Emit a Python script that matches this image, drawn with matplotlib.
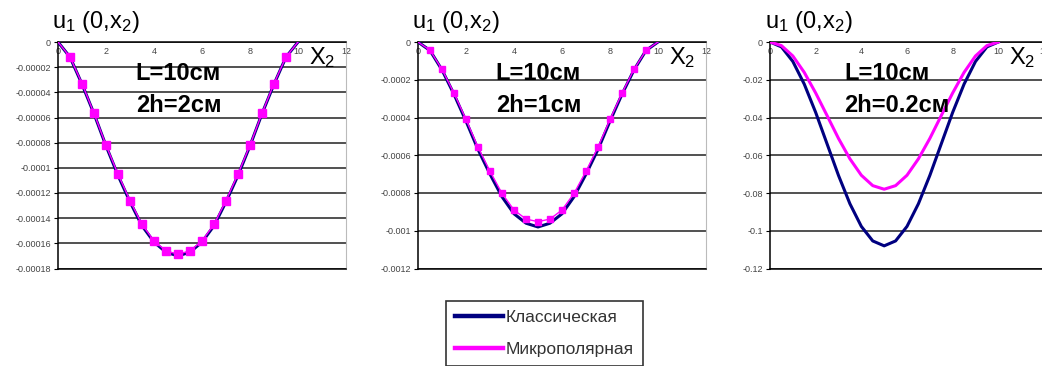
import matplotlib
matplotlib.use('Agg')
import matplotlib.pyplot as plt

plt.rcParams['font.family'] = ['Liberation Sans', 'DejaVu Sans']
plt.rcParams['mathtext.fontset'] = 'custom'
plt.rcParams['mathtext.rm'] = 'Liberation Sans'
plt.rcParams['mathtext.it'] = 'Liberation Sans:italic'
plt.rcParams['mathtext.bf'] = 'Liberation Sans:bold'

# ---------- data ----------
x2 = [0, 0.5, 1, 1.5, 2, 2.5, 3, 3.5, 4, 4.5, 5, 5.5, 6, 6.5, 7, 7.5, 8, 8.5, 9, 9.5, 10]

# 2h = 2 cm
classic_1 = [0, -0.000012, -0.0000335, -0.000057, -0.0000825, -0.000106, -0.000127, -0.000146, -0.000159,
             -0.000167, -0.00017, -0.000167, -0.000159, -0.000146, -0.000127, -0.000106, -0.0000825,
             -0.000057, -0.0000335, -0.000012, 0]
micro_1 = [0, -0.0000119, -0.000033, -0.0000567, -0.000082, -0.000105, -0.000126, -0.000145, -0.000158,
           -0.000166, -0.0001686, -0.000166, -0.000158, -0.000145, -0.000126, -0.000105, -0.000082,
           -0.0000567, -0.000033, -0.0000119, 0]

# 2h = 1 cm
classic_2 = [0, -0.000045, -0.000148, -0.000277, -0.000419, -0.000569, -0.0007, -0.00082, -0.00091,
             -0.00096, -0.00098, -0.00096, -0.00091, -0.00082, -0.0007, -0.000569, -0.000419,
             -0.000277, -0.000148, -0.000045, 0]
micro_2 = [0, -0.000044, -0.000145, -0.000271, -0.00041, -0.000557, -0.000685, -0.000802, -0.00089,
           -0.000938, -0.000952, -0.000938, -0.00089, -0.000802, -0.000685, -0.000557, -0.00041,
           -0.000271, -0.000145, -0.000044, 0]

# 2h = 0.2 cm
classic_3 = [0, -0.0026, -0.0103, -0.0223, -0.0373, -0.054, -0.0707, -0.0857, -0.0977, -0.1054, -0.108,
             -0.1054, -0.0977, -0.0857, -0.0707, -0.054, -0.0373, -0.0223, -0.0103, -0.0026, 0]
micro_3 = [0, -0.0019, -0.0074, -0.0161, -0.027, -0.039, -0.0511, -0.0619, -0.0706, -0.0761, -0.078,
           -0.0761, -0.0706, -0.0619, -0.0511, -0.039, -0.027, -0.0161, -0.0074, -0.0019, 0]

x_ticks = [0, 2, 4, 6, 8, 10, 12]
y_ticks_1 = [0, -0.00002, -0.00004, -0.00006, -0.00008, -0.0001, -0.00012, -0.00014, -0.00016, -0.00018]
y_labels_1 = ['0', '-0.00002', '-0.00004', '-0.00006', '-0.00008', '-0.0001', '-0.00012', '-0.00014',
              '-0.00016', '-0.00018']
y_ticks_2 = [0, -0.0002, -0.0004, -0.0006, -0.0008, -0.001, -0.0012]
y_labels_2 = ['0', '-0.0002', '-0.0004', '-0.0006', '-0.0008', '-0.001', '-0.0012']
y_ticks_3 = [0, -0.02, -0.04, -0.06, -0.08, -0.1, -0.12]
y_labels_3 = ['0', '-0.02', '-0.04', '-0.06', '-0.08', '-0.1', '-0.12']

thickness = ['2h=2см', '2h=1см', '2h=0.2см']
legend_names = ['Классическая', 'Микрополярная']

navy = '#000080'
magenta = '#ff00ff'

fig = plt.figure(figsize=(10.42, 3.66), dpi=100)

# axes boxes in pixels: left, width (figure is 1042 x 366)
boxes = [(58, 288), (418, 288), (770, 274)]
top_px, bot_px = 42, 268.5

panels = [
    (classic_1, micro_1, y_ticks_1, y_labels_1, 5.5),
    (classic_2, micro_2, y_ticks_2, y_labels_2, 4.5),
    (classic_3, micro_3, y_ticks_3, y_labels_3, 0),
]

axes = []
for i, (cl, mi, yt, yl, msize) in enumerate(panels):
    left, width = boxes[i]
    ax = fig.add_axes([left / 1042, 1 - bot_px / 366, width / 1042, (bot_px - top_px) / 366])
    axes.append(ax)

    for y in yt:
        ax.axhline(y, color='#222222', linewidth=1.1, zorder=1)

    ax.plot(x2, cl, color=navy, linewidth=2.2, zorder=3, label=legend_names[0])
    if msize:
        ax.plot(x2, mi, color=magenta, linewidth=1, marker='s', markersize=msize,
                markevery=slice(1, -1), zorder=4, label=legend_names[1])
    else:
        ax.plot(x2, mi, color=magenta, linewidth=2.2, zorder=3, label=legend_names[1])

    ax.set_xlim(0, 12)
    ax.set_ylim(yt[-1], 0)
    ax.set_xticks(x_ticks)
    ax.set_yticks(yt)
    ax.set_yticklabels(yl)
    ax.tick_params(axis='x', top=True, labeltop=True, bottom=False, labelbottom=False,
                   length=0, pad=-10, labelsize=6.5, labelcolor='#444444')
    ax.tick_params(axis='y', length=3, width=0.8, pad=2, labelsize=6.5, labelcolor='#444444')

    ax.spines['top'].set_color('black')
    ax.spines['left'].set_color('black')
    ax.spines['bottom'].set_color('black')
    ax.spines['right'].set_color('#bbbbbb')
    ax.spines['left'].set_linewidth(1.1)
    ax.spines['top'].set_linewidth(1.1)
    ax.spines['bottom'].set_linewidth(1.1)

    ax.text(-0.02, 1.03, r'u$_1$ (0,x$_2$)', transform=ax.transAxes, fontsize=17,
            ha='left', va='bottom')
    ax.text(10.45 / 12, 0.93, r'X$_2$', transform=ax.transAxes, fontsize=17,
            ha='left', va='center')
    ax.text(0.27, 0.86, 'L=10см', transform=ax.transAxes, fontsize=17,
            fontweight='bold', ha='left', va='center')
    ax.text(0.27, 0.72, thickness[i], transform=ax.transAxes, fontsize=17,
            fontweight='bold', ha='left', va='center')

handles, labels = axes[2].get_legend_handles_labels()
leg = fig.legend(handles, labels, loc='upper left', bbox_to_anchor=(446 / 1042, 1 - 301 / 366),
                 fontsize=12.5, frameon=True, fancybox=False, edgecolor='black',
                 handlelength=2.8, handletextpad=0.15, labelspacing=1.0, borderpad=0.5,
                 borderaxespad=0)
leg.get_frame().set_linewidth(1.2)
for line in leg.get_lines():
    line.set_linewidth(3.2)
for t in leg.get_texts():
    t.set_color('#333333')

fig.savefig('out.png', dpi=100, facecolor='white')
